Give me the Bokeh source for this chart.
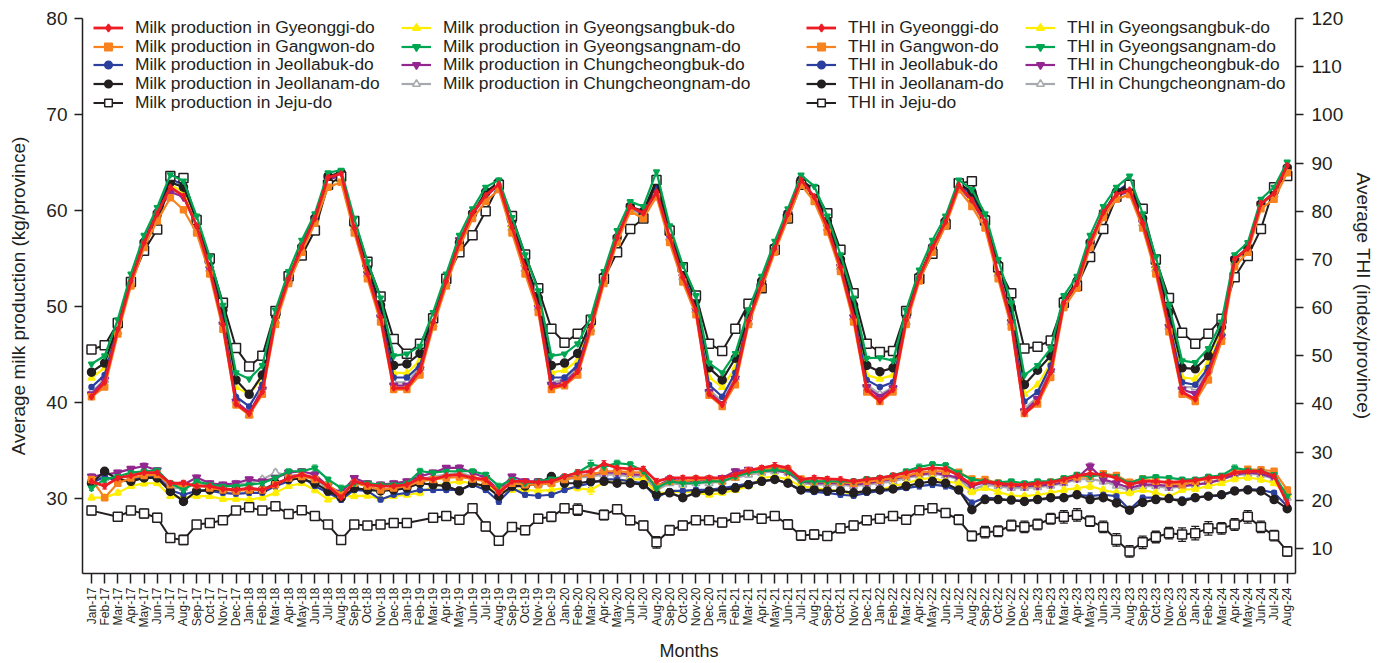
import math
from bokeh.plotting import figure
from bokeh.models import (Range1d, LinearAxis, FixedTicker, Legend, LegendItem,
                          Whisker, ColumnDataSource, TeeHead)
from bokeh.embed import file_html
from bokeh.resources import INLINE

MONTHS = [
    "Jan-17", "Feb-17", "Mar-17", "Apr-17", "May-17", "Jun-17", "Jul-17", "Aug-17", "Sep-17", "Oct-17", "Nov-17", "Dec-17",
    "Jan-18", "Feb-18", "Mar-18", "Apr-18", "May-18", "Jun-18", "Jul-18", "Aug-18", "Sep-18", "Oct-18", "Nov-18", "Dec-18",
    "Jan-19", "Feb-19", "Mar-19", "Apr-19", "May-19", "Jun-19", "Jul-19", "Aug-19", "Sep-19", "Oct-19", "Nov-19", "Dec-19",
    "Jan-20", "Feb-20", "Mar-20", "Apr-20", "May-20", "Jun-20", "Jul-20", "Aug-20", "Sep-20", "Oct-20", "Nov-20", "Dec-20",
    "Jan-21", "Feb-21", "Mar-21", "Apr-21", "May-21", "Jun-21", "Jul-21", "Aug-21", "Sep-21", "Oct-21", "Nov-21", "Dec-21",
    "Jan-22", "Feb-22", "Mar-22", "Apr-22", "May-22", "Jun-22", "Jul-22", "Aug-22", "Sep-22", "Oct-22", "Nov-22", "Dec-22",
    "Jan-23", "Feb-23", "Mar-23", "Apr-23", "May-23", "Jun-23", "Jul-23", "Aug-23", "Sep-23", "Oct-23", "Nov-23", "Dec-23",
    "Jan-24", "Feb-24", "Mar-24", "Apr-24", "May-24", "Jun-24", "Jul-24", "Aug-24",
]

PROVINCES = ["Gyeonggi-do", "Gangwon-do", "Jeollabuk-do", "Jeollanam-do", "Jeju-do",
             "Gyeongsangbuk-do", "Gyeongsangnam-do", "Chungcheongbuk-do", "Chungcheongnam-do"]

# ---------------- THI (right axis) ----------------
THI_GYEONGGI = [
    41.5, 44.5, 55.5, 65.5, 73.5, 79.5, 85.0, 83.2, 77.0, 68.0, 56.5, 40.0,
    38.0, 42.5, 57.7, 66.0, 72.5, 78.5, 87.0, 87.8, 76.5, 67.0, 58.0, 43.3,
    43.3, 46.9, 57.0, 65.5, 73.5, 79.6, 83.3, 85.6, 76.7, 68.3, 60.0, 43.5,
    44.0, 46.7, 56.0, 66.0, 74.5, 81.0, 79.6, 84.0, 74.7, 66.3, 59.4, 42.1,
    39.8, 45.0, 57.3, 65.0, 72.3, 79.5, 86.5, 83.0, 76.7, 68.4, 58.0, 43.0,
    40.6, 43.0, 57.5, 66.3, 72.5, 77.8, 85.4, 82.3, 77.8, 67.0, 57.0, 38.0,
    40.4, 46.6, 61.0, 65.0, 73.5, 79.7, 83.5, 84.4, 77.5, 68.0, 56.0, 42.5,
    41.0, 46.5, 54.0, 70.0, 72.3, 81.6, 83.7, 89.5]
THI_GANGWON = [
    41.5, 43.5, 54.5, 64.5, 72.5, 78.0, 82.8, 80.3, 75.5, 67.0, 55.5, 39.8,
    37.7, 42.0, 56.5, 65.0, 71.5, 77.5, 85.0, 86.0, 75.5, 66.0, 57.0, 43.0,
    43.0, 46.0, 56.0, 64.5, 72.5, 78.5, 82.0, 84.5, 75.5, 67.0, 59.0, 43.0,
    43.8, 46.0, 55.0, 65.0, 73.5, 80.0, 78.5, 83.0, 73.5, 65.3, 58.5, 41.8,
    39.5, 44.0, 56.5, 64.0, 71.5, 78.5, 85.5, 82.0, 75.7, 67.5, 57.0, 42.5,
    40.5, 42.5, 56.5, 65.5, 71.5, 77.0, 84.5, 81.0, 76.5, 66.0, 56.0, 38.0,
    40.0, 45.5, 60.0, 64.0, 72.5, 78.7, 82.5, 83.5, 76.5, 67.0, 55.0, 42.0,
    40.5, 45.0, 53.0, 68.5, 71.5, 80.5, 82.5, 88.0]
THI_JEOLLABUK = [
    43.5, 46.0, 56.0, 65.5, 74.0, 80.0, 86.7, 85.5, 78.0, 68.5, 57.5, 41.5,
    39.5, 44.0, 58.0, 66.0, 73.0, 79.0, 87.3, 87.8, 77.0, 67.5, 59.0, 45.5,
    45.5, 48.0, 57.5, 65.5, 73.5, 79.5, 83.5, 85.8, 77.0, 68.5, 60.5, 45.5,
    45.5, 48.0, 56.5, 66.0, 74.5, 81.0, 79.8, 85.0, 75.5, 67.0, 60.0, 44.0,
    41.5, 46.5, 58.0, 65.5, 72.5, 79.5, 86.5, 84.0, 77.5, 69.0, 59.0, 45.0,
    43.5, 44.5, 58.0, 66.5, 72.8, 78.0, 85.5, 83.5, 78.0, 67.5, 58.0, 40.5,
    42.5, 48.0, 61.0, 65.0, 73.5, 79.7, 84.0, 86.0, 78.0, 68.5, 57.0, 44.5,
    44.0, 47.5, 54.5, 70.0, 72.3, 81.5, 83.8, 89.3]
THI_JEOLLANAM = [
    46.6, 48.5, 56.5, 65.5, 73.5, 79.5, 86.0, 85.0, 78.5, 69.5, 59.5, 45.0,
    42.0, 46.0, 58.5, 66.0, 72.5, 78.5, 87.3, 88.0, 77.5, 68.5, 60.5, 48.0,
    48.3, 50.5, 58.0, 66.0, 73.5, 79.5, 84.0, 86.0, 78.0, 69.5, 62.0, 48.0,
    48.5, 50.5, 57.0, 66.5, 74.5, 81.0, 80.0, 86.5, 76.0, 68.0, 61.5, 47.5,
    45.0, 49.5, 58.5, 65.5, 72.5, 79.5, 86.5, 84.5, 78.0, 70.0, 60.5, 48.0,
    46.7, 47.5, 58.5, 66.5, 72.5, 78.0, 85.8, 84.0, 78.5, 69.0, 60.0, 44.0,
    47.0, 50.0, 61.5, 65.5, 73.5, 79.5, 84.0, 85.5, 78.5, 69.5, 59.0, 47.5,
    47.3, 50.0, 56.0, 70.0, 72.5, 81.5, 84.0, 89.0]
THI_JEJU = [
    51.3, 52.2, 56.8, 65.3, 71.8, 76.2, 87.3, 86.9, 78.2, 70.2, 61.0, 51.6,
    47.8, 50.0, 59.3, 66.5, 70.8, 76.0, 85.5, 87.2, 78.0, 69.5, 62.3, 53.5,
    50.4, 52.5, 57.8, 66.0, 71.5, 75.0, 80.0, 85.5, 79.0, 71.0, 64.0, 55.6,
    52.7, 54.6, 57.5, 66.0, 71.5, 76.3, 78.5, 86.5, 76.0, 68.4, 62.5, 52.5,
    51.0, 55.6, 60.8, 64.0, 72.0, 78.5, 85.5, 84.4, 79.6, 72.0, 63.0, 52.5,
    50.8, 51.0, 59.3, 66.0, 71.2, 77.3, 85.8, 86.2, 78.1, 68.4, 63.0, 51.5,
    51.9, 53.2, 61.0, 64.5, 70.5, 76.3, 83.0, 85.5, 80.5, 70.0, 62.0, 54.8,
    52.5, 54.6, 57.7, 66.3, 70.7, 76.3, 85.0, 87.3]
THI_GYEONGSANGBUK = [
    45.4, 47.5, 56.0, 66.0, 74.0, 79.5, 85.5, 84.0, 77.5, 69.0, 58.5, 43.5,
    42.0, 45.5, 58.0, 66.5, 73.0, 78.5, 86.0, 86.5, 77.0, 68.0, 59.5, 46.5,
    46.4, 49.0, 57.5, 66.0, 73.5, 79.5, 83.5, 85.5, 77.0, 68.8, 61.0, 46.5,
    47.0, 49.0, 56.5, 66.0, 74.5, 80.0, 78.5, 85.5, 75.5, 67.0, 60.5, 45.5,
    43.5, 47.5, 58.0, 65.5, 72.5, 79.5, 86.0, 83.5, 77.0, 69.0, 59.5, 46.0,
    45.2, 46.0, 58.0, 66.5, 73.0, 78.0, 85.0, 82.8, 77.5, 67.5, 58.5, 42.0,
    44.0, 48.5, 61.0, 65.0, 73.5, 79.5, 83.5, 85.0, 77.5, 68.5, 57.5, 45.5,
    45.2, 48.5, 55.0, 69.5, 72.5, 81.5, 83.5, 89.0]
THI_GYEONGSANGNAM = [
    48.3, 50.0, 57.5, 67.0, 75.0, 80.8, 87.6, 86.3, 79.0, 70.5, 60.5, 46.5,
    45.2, 48.0, 59.5, 67.5, 74.0, 79.5, 88.0, 88.5, 78.5, 69.5, 62.0, 50.0,
    50.4, 52.0, 59.0, 67.0, 75.0, 80.5, 85.0, 86.5, 78.7, 71.0, 63.5, 50.0,
    50.4, 52.5, 58.0, 67.5, 76.0, 82.0, 81.0, 88.2, 77.0, 68.8, 62.5, 48.5,
    46.5, 50.5, 59.5, 66.5, 73.8, 80.5, 87.5, 85.2, 79.0, 71.0, 62.0, 49.5,
    49.6, 49.0, 59.5, 67.8, 74.0, 79.0, 86.5, 84.5, 79.5, 70.0, 61.0, 46.0,
    48.0, 51.5, 62.5, 66.5, 75.0, 81.0, 85.0, 87.3, 79.5, 70.5, 60.5, 49.0,
    48.6, 51.5, 57.0, 71.0, 73.5, 82.5, 85.0, 90.2]
THI_CHUNGCHEONGBUK = [
    42.0, 45.0, 55.5, 65.5, 73.5, 79.5, 84.0, 83.0, 77.0, 68.0, 56.5, 40.5,
    38.2, 43.0, 57.5, 66.0, 72.5, 78.5, 86.5, 87.5, 76.5, 67.0, 58.0, 43.8,
    43.8, 47.2, 57.0, 65.5, 74.0, 79.5, 83.0, 85.5, 76.5, 68.3, 60.0, 44.0,
    44.5, 47.0, 56.0, 66.0, 74.5, 81.0, 79.3, 84.0, 74.7, 66.3, 59.4, 42.5,
    40.0, 45.3, 57.3, 65.0, 72.5, 79.5, 86.3, 83.0, 76.7, 68.4, 58.0, 43.5,
    41.5, 43.3, 57.5, 66.3, 72.5, 77.8, 85.2, 82.0, 77.5, 67.0, 57.0, 38.5,
    41.0, 46.8, 61.0, 65.0, 73.5, 79.7, 83.3, 84.0, 77.5, 68.0, 56.0, 43.0,
    42.1, 46.7, 54.0, 70.0, 72.3, 81.5, 83.5, 89.0]
THI_CHUNGCHEONGNAM = [
    42.5, 45.0, 55.0, 65.0, 73.5, 79.5, 84.5, 83.5, 77.0, 68.0, 57.0, 40.8,
    37.7, 43.5, 57.3, 65.5, 72.5, 78.5, 86.5, 87.5, 76.5, 67.0, 58.5, 44.5,
    44.5, 47.5, 56.5, 65.0, 73.5, 79.5, 83.0, 85.5, 76.5, 68.0, 60.0, 44.5,
    45.0, 47.5, 55.5, 65.5, 74.5, 80.5, 79.0, 84.5, 74.5, 66.3, 59.5, 43.0,
    40.5, 45.5, 57.0, 65.0, 72.3, 79.5, 86.0, 83.5, 76.5, 68.4, 58.0, 44.0,
    42.0, 43.5, 57.0, 66.0, 72.5, 77.5, 85.0, 82.5, 77.5, 67.0, 57.0, 39.0,
    41.5, 47.0, 60.5, 64.5, 73.5, 79.5, 83.5, 84.5, 77.5, 68.0, 56.0, 43.5,
    43.5, 47.0, 54.0, 69.5, 72.0, 81.5, 83.5, 89.0]

# ---------------- Milk production (left axis) ----------------
MILK_GYEONGGI = [
    31.8, 31.3, 32.15, 32.4, 32.7, 32.7, 31.6, 31.6, 31.3, 31.3, 31.0, 30.9,
    31.1, 30.9, 31.45, 32.15, 32.5, 32.15, 31.3, 30.1, 31.8, 31.45, 31.3, 31.3,
    31.45, 32.15, 32.0, 32.4, 32.5, 32.15, 32.0, 30.6, 31.8, 31.8, 31.7, 31.8,
    32.3, 32.7, 32.85, 33.65, 33.2, 33.1, 33.1, 31.8, 32.15, 32.15, 32.15, 32.15,
    32.15, 32.5, 32.95, 33.2, 33.45, 33.2, 32.0, 32.15, 32.05, 32.0, 31.8, 32.0,
    32.15, 32.4, 32.7, 33.0, 33.2, 33.1, 32.4, 31.45, 31.8, 31.6, 31.45, 31.45,
    31.6, 31.7, 32.0, 32.4, 32.6, 32.5, 32.15, 31.45, 31.8, 31.8, 31.7, 31.8,
    31.9, 32.15, 32.25, 32.7, 32.85, 32.85, 32.35, 29.55]
MILK_GANGWON = [
    32.0, 30.1, 31.6, 32.15, 32.4, 32.5, 31.45, 31.3, 31.45, 31.1, 30.9, 30.8,
    30.9, 30.9, 31.45, 32.15, 32.3, 32.0, 31.45, 30.4, 31.6, 31.3, 30.9, 31.1,
    31.3, 31.8, 32.0, 32.15, 32.25, 32.05, 31.8, 30.9, 31.6, 31.45, 31.45, 31.6,
    32.0, 32.3, 32.5, 32.85, 32.85, 32.75, 32.7, 31.3, 31.8, 31.8, 32.0, 32.0,
    31.8, 32.25, 32.85, 33.0, 33.2, 33.0, 32.05, 31.8, 31.8, 31.7, 31.6, 31.8,
    31.9, 32.15, 32.4, 32.7, 32.85, 32.85, 32.75, 32.05, 32.0, 31.6, 31.55, 31.45,
    31.55, 31.7, 31.9, 32.25, 32.3, 32.6, 32.4, 31.7, 32.05, 31.8, 31.6, 31.45,
    31.8, 32.05, 32.25, 32.85, 33.05, 33.0, 32.85, 30.9]
MILK_JEOLLABUK = [
    31.6, 32.3, 31.8, 32.0, 32.3, 32.3, 30.9, 30.4, 30.8, 30.8, 30.6, 30.5,
    30.6, 30.6, 31.3, 31.8, 32.3, 31.3, 30.6, 29.9, 30.9, 30.8, 29.9, 30.4,
    30.6, 30.9, 30.9, 30.9, 30.9, 31.45, 30.9, 29.7, 31.1, 30.4, 30.3, 30.4,
    30.9, 31.3, 31.6, 32.0, 32.0, 31.8, 31.6, 30.1, 30.8, 30.8, 30.9, 30.9,
    31.1, 31.3, 31.6, 31.8, 32.0, 31.6, 30.8, 30.7, 30.6, 30.4, 30.3, 30.6,
    30.8, 30.9, 31.1, 31.3, 31.45, 31.3, 30.8, 29.55, 30.1, 30.0, 29.8, 29.8,
    29.9, 30.0, 30.2, 30.4, 30.25, 30.4, 30.25, 28.85, 30.1, 30.1, 29.9, 29.9,
    30.1, 30.25, 30.3, 30.8, 31.0, 30.9, 30.6, 29.2]
MILK_JEOLLANAM = [
    31.6, 32.85, 32.0, 31.8, 32.15, 32.15, 30.75, 29.7, 30.8, 30.9, 30.9, 30.9,
    30.9, 30.9, 31.6, 32.05, 32.05, 31.6, 30.8, 30.1, 31.1, 30.9, 30.8, 30.9,
    31.1, 31.6, 31.45, 31.3, 30.8, 31.6, 31.3, 30.25, 31.3, 31.3, 31.6, 32.3,
    31.6, 31.6, 31.8, 31.8, 31.6, 31.6, 31.45, 30.4, 30.6, 30.1, 30.6, 30.8,
    30.9, 31.1, 31.45, 31.8, 32.0, 31.6, 30.9, 30.9, 30.8, 30.8, 30.6, 30.8,
    30.9, 31.0, 31.3, 31.6, 31.8, 31.6, 30.9, 28.85, 29.9, 29.9, 29.85, 29.7,
    29.9, 30.1, 30.1, 30.4, 29.9, 30.1, 29.55, 28.8, 29.6, 29.9, 30.0, 29.7,
    30.1, 30.25, 30.4, 30.8, 30.9, 30.8, 29.9, 28.95]
MILK_JEJU = [
    28.75, None, 28.1, 28.75, 28.45, 28.0, 25.9, 25.7, 27.3, 27.45, 27.75, 28.75,
    29.1, 28.75, 29.2, 28.4, 28.8, 28.2, 27.3, 25.7, 27.3, 27.2, 27.3, 27.45,
    27.45, None, 28.0, 28.2, 27.8, 29.0, 27.1, 25.6, 27.05, 26.7, 27.9, 28.1,
    29.0, 28.85, None, 28.3, 28.9, 27.75, 27.2, 25.45, 26.7, 27.2, 27.75, 27.75,
    27.5, 28.0, 28.3, 27.9, 28.2, 27.3, 26.15, 26.25, 26.1, 26.9, 27.2, 27.75,
    27.9, 28.2, 27.8, 28.8, 29.0, 28.5, 27.8, 26.1, 26.5, 26.6, 27.2, 27.05,
    27.3, 27.9, 28.1, 28.3, 27.65, 27.05, 25.7, 24.5, 25.45, 26.0, 26.4, 26.25,
    26.4, 26.9, 26.9, 27.3, 28.1, 27.05, 26.15, 24.5]
MILK_JEJU_SE = [
    0.45, None, 0.45, 0.4, 0.45, 0.45, 0.45, 0.5, 0.4, 0.4, 0.4, 0.4,
    0.4, 0.4, 0.35, 0.45, 0.35, 0.35, 0.4, 0.45, 0.4, 0.4, 0.4, 0.35,
    0.35, None, 0.35, 0.35, 0.4, 0.35, 0.45, 0.45, 0.35, 0.45, 0.45, 0.5,
    0.45, 0.6, None, 0.5, 0.45, 0.45, 0.45, 0.6, 0.5, 0.45, 0.35, 0.35,
    0.45, 0.35, 0.35, 0.45, 0.45, 0.5, 0.5, 0.5, 0.45, 0.45, 0.45, 0.45,
    0.35, 0.35, 0.45, 0.4, 0.4, 0.4, 0.5, 0.5, 0.6, 0.55, 0.55, 0.6,
    0.55, 0.55, 0.65, 0.65, 0.55, 0.6, 0.65, 0.6, 0.65, 0.6, 0.6, 0.7,
    0.7, 0.7, 0.6, 0.6, 0.65, 0.6, 0.55, 0.5]
MILK_GYEONGSANGBUK = [
    30.1, 30.1, 30.6, 31.3, 31.6, 31.6, 30.25, 30.1, 30.25, 30.25, 29.95, 29.95,
    29.9, 30.1, 30.6, 31.3, 31.6, 30.9, 29.9, 30.25, 30.25, 30.3, 29.95, 30.25,
    30.4, 30.6, 31.3, 31.6, 31.8, 31.6, 31.3, 30.8, 30.9, 30.9, 30.8, 30.9,
    31.1, 31.1, 30.9, 31.7, 31.8, 32.0, 32.0, 30.6, 30.6, 30.8, 30.6, 30.4,
    30.6, 30.9, 31.3, 32.15, 32.3, 32.0, 31.3, 31.1, 30.9, 30.8, 30.4, 30.8,
    30.9, 31.3, 31.6, 32.0, 32.15, 31.8, 31.6, 30.7, 31.1, 30.7, 30.3, 30.25,
    30.4, 30.6, 30.9, 31.1, 31.3, 30.9, 30.6, 30.6, 30.9, 30.6, 30.2, 30.9,
    31.0, 31.3, 31.6, 32.05, 32.2, 32.0, 31.6, 30.4]
MILK_GYEONGSANGNAM = [
    31.1, 32.0, 32.3, 32.7, 32.85, 32.95, 31.6, 30.9, 31.8, 31.45, 31.3, 31.3,
    31.45, 31.6, 32.15, 32.85, 32.85, 33.2, 32.0, 31.1, 31.6, 31.6, 31.45, 31.45,
    31.6, 32.85, 32.7, 32.85, 32.85, 32.85, 32.5, 31.3, 32.0, 31.6, 31.8, 32.05,
    32.3, 32.7, 33.55, 33.3, 33.7, 33.55, 32.85, 31.1, 31.8, 31.6, 31.6, 31.8,
    31.8, 32.3, 32.7, 32.85, 33.0, 32.85, 31.8, 31.8, 31.8, 31.8, 31.8, 32.05,
    32.15, 32.4, 32.85, 33.3, 33.55, 33.45, 32.7, 32.0, 31.8, 31.7, 31.8, 31.6,
    31.8, 31.8, 32.15, 32.5, 32.3, 32.5, 32.3, 31.6, 32.15, 32.25, 32.15, 32.0,
    32.0, 32.3, 32.4, 33.2, 32.95, 32.85, 32.5, 30.25]
MILK_CHUNGCHEONGBUK = [
    32.3, 32.5, 32.7, 33.1, 33.4, 32.95, 31.45, 31.45, 32.2, 31.6, 31.45, 31.6,
    32.0, 31.8, 32.15, 32.7, 32.85, 32.5, 31.3, 30.6, 32.15, 31.6, 31.45, 31.6,
    31.8, 32.3, 32.7, 33.2, 33.2, 32.7, 32.15, 30.9, 32.3, 31.8, 31.8, 31.8,
    32.15, 32.3, 32.5, 32.7, 32.7, 32.5, 32.5, 31.3, 32.0, 31.8, 31.8, 32.05,
    32.15, 32.85, 33.0, 32.85, 32.95, 32.7, 31.8, 31.6, 31.6, 31.6, 31.45, 31.6,
    31.8, 32.05, 32.3, 32.5, 32.7, 32.5, 32.15, 31.3, 31.7, 31.45, 31.3, 31.3,
    31.35, 31.45, 31.7, 32.15, 33.35, 32.0, 31.6, 31.1, 31.45, 31.45, 31.3, 31.3,
    31.45, 31.6, 32.0, 32.5, 32.7, 32.6, 32.15, 30.25]
MILK_CHUNGCHEONGNAM = [
    32.1, 32.1, 32.15, 32.4, 32.7, 32.4, 31.1, 31.1, 31.6, 31.3, 31.3, 31.45,
    31.6, 32.0, 32.7, 32.4, 32.5, 32.15, 30.9, 30.25, 31.8, 31.3, 31.3, 31.45,
    31.45, 32.0, 32.3, 32.5, 32.7, 32.3, 31.8, 30.8, 31.8, 31.45, 31.45, 31.6,
    32.0, 32.15, 32.3, 32.5, 32.5, 32.3, 32.3, 30.9, 31.6, 31.45, 31.6, 31.6,
    31.8, 32.15, 32.5, 32.7, 32.85, 32.7, 31.6, 31.45, 31.45, 31.45, 31.3, 31.45,
    31.6, 31.8, 32.15, 32.4, 32.6, 32.4, 32.0, 30.9, 31.45, 31.3, 31.1, 31.1,
    31.2, 31.35, 31.6, 32.0, 32.05, 31.8, 31.35, 30.8, 31.3, 31.3, 31.1, 31.3,
    31.45, 31.7, 32.0, 32.4, 32.6, 32.5, 32.05, 30.1]
MILK_SE_MAINLAND = [
    0.25, 0.3, 0.25, 0.25, 0.3, 0.25, 0.25, 0.3, 0.25, 0.25, 0.25, 0.25,
    0.25, 0.25, 0.3, 0.25, 0.25, 0.3, 0.25, 0.3, 0.25, 0.25, 0.25, 0.25,
    0.25, 0.3, 0.25, 0.25, 0.3, 0.25, 0.25, 0.3, 0.25, 0.25, 0.25, 0.25,
    0.25, 0.3, 0.45, 0.3, 0.3, 0.3, 0.25, 0.3, 0.25, 0.25, 0.25, 0.25,
    0.25, 0.25, 0.25, 0.25, 0.3, 0.25, 0.25, 0.25, 0.25, 0.25, 0.25, 0.25,
    0.25, 0.25, 0.25, 0.3, 0.3, 0.3, 0.25, 0.3, 0.25, 0.25, 0.25, 0.25,
    0.25, 0.25, 0.25, 0.25, 0.35, 0.3, 0.25, 0.3, 0.25, 0.25, 0.25, 0.25,
    0.25, 0.25, 0.25, 0.3, 0.3, 0.3, 0.25, 0.3]

THI_DATA = [THI_GYEONGGI, THI_GANGWON, THI_JEOLLABUK, THI_JEOLLANAM, THI_JEJU,
            THI_GYEONGSANGBUK, THI_GYEONGSANGNAM, THI_CHUNGCHEONGBUK, THI_CHUNGCHEONGNAM]
MILK_DATA = [MILK_GYEONGGI, MILK_GANGWON, MILK_JEOLLABUK, MILK_JEOLLANAM, MILK_JEJU,
             MILK_GYEONGSANGBUK, MILK_GYEONGSANGNAM, MILK_CHUNGCHEONGBUK, MILK_CHUNGCHEONGNAM]

STYLES = [
    dict(color="#ED1C24", marker="diamond", size=6, fill="#ED1C24", lw=2.8),
    dict(color="#F7821E", marker="square", size=6, fill="#F7821E", lw=2.2),
    dict(color="#2B3F9E", marker="circle", size=5, fill="#2B3F9E", lw=2.2),
    dict(color="#231F20", marker="circle", size=8, fill="#231F20", lw=2.2),
    dict(color="#231F20", marker="square", size=9, fill="white", lw=2.0),
    dict(color="#FFEE00", marker="triangle", size=7, fill="#FFEE00", lw=2.2),
    dict(color="#00A651", marker="inverted_triangle", size=6, fill="#00A651", lw=2.2),
    dict(color="#92278F", marker="inverted_triangle", size=8, fill="#92278F", lw=2.2),
    dict(color="#A7A9AC", marker="triangle", size=8, fill="white", lw=2.2),
]
DRAW_ORDER = [8, 7, 5, 2, 3, 4, 1, 6, 0]

TXT = "#231F20"
FONT = "Liberation Sans"

p = figure(width=1384, height=663, output_backend="svg", toolbar_location=None,
           x_range=Range1d(-0.685, 91.63), y_range=Range1d(22.2, 80.0),
           min_border_left=82, min_border_right=89, min_border_top=18, min_border_bottom=89)
p.extra_y_ranges = {"thi": Range1d(4.82, 120.0)}
p.xgrid.visible = False
p.ygrid.visible = False
p.outline_line_color = None
p.background_fill_color = "white"
p.border_fill_color = "white"

X = list(range(len(MONTHS)))

milk_r = {}
thi_r = {}
for k in DRAW_ORDER:
    st = STYLES[k]
    vals = MILK_DATA[k]
    xs = [i for i, v in enumerate(vals) if v is not None]
    ys = [vals[i] for i in xs]
    if k == 4:
        se = [MILK_JEJU_SE[i] for i in xs]
        head_size = 8
        wl = 1.3
    else:
        se = [MILK_SE_MAINLAND[i] for i in xs]
        head_size = 5
        wl = 1.0
    src = ColumnDataSource(dict(x=xs, y=ys, lo=[a - b for a, b in zip(ys, se)],
                                hi=[a + b for a, b in zip(ys, se)]))
    w = Whisker(source=src, base="x", lower="lo", upper="hi", line_color=st["color"], line_width=wl,
                upper_head=TeeHead(size=head_size, line_color=st["color"], line_width=wl),
                lower_head=TeeHead(size=head_size, line_color=st["color"], line_width=wl))
    p.add_layout(w)
    l1 = p.line("x", "y", source=src, line_color=st["color"], line_width=st["lw"])
    s1 = p.scatter("x", "y", source=src, marker=st["marker"], size=st["size"],
                   fill_color=st["fill"], line_color=st["color"], line_width=1.5)
    milk_r[k] = [l1, s1]
    tv = THI_DATA[k]
    l2 = p.line(X, tv, line_color=st["color"], line_width=st["lw"], y_range_name="thi")
    s2 = p.scatter(X, tv, marker=st["marker"], size=st["size"], fill_color=st["fill"],
                   line_color=st["color"], line_width=1.5, y_range_name="thi")
    thi_r[k] = [l2, s2]

# axes
xa = p.xaxis[0]
xa.ticker = FixedTicker(ticks=X)
xa.major_label_overrides = {i: m for i, m in enumerate(MONTHS)}
xa.major_label_orientation = math.pi / 2
xa.major_label_text_font_size = "12px"
xa.major_label_standoff = 4
xa.axis_label = "Months"
xa.axis_label_text_font_size = "18px"
xa.axis_label_text_font_style = "normal"
xa.axis_label_standoff = 10

ya = p.yaxis[0]
ya.ticker = FixedTicker(ticks=[30, 40, 50, 60, 70, 80])
ya.major_label_text_font_size = "19px"
ya.major_label_standoff = 7
ya.axis_label = "Average milk production (kg/province)"
ya.axis_label_text_font_size = "19px"
ya.axis_label_text_font_style = "normal"
ya.axis_label_standoff = 14

ra = LinearAxis(y_range_name="thi", ticker=FixedTicker(ticks=[10, 20, 30, 40, 50, 60, 70, 80, 90, 100, 110, 120]),
                axis_label="Average THI (index/province)")
ra.major_label_text_font_size = "19px"
ra.major_label_standoff = 8
ra.axis_label_text_font_size = "19px"
ra.axis_label_text_font_style = "normal"
ra.axis_label_standoff = 7
p.add_layout(ra, "right")

for ax in [xa, ya, ra]:
    ax.axis_line_color = TXT
    ax.axis_line_width = 1.5
    ax.major_tick_line_color = TXT
    ax.major_tick_line_width = 1.5
    ax.major_tick_in = 0
    ax.major_tick_out = 8
    ax.minor_tick_line_color = None
    ax.major_label_text_color = TXT
    ax.major_label_text_font = FONT
    ax.axis_label_text_color = TXT
    ax.axis_label_text_font = FONT
xa.major_tick_out = 10

# legend: one Legend per entry so rows sit where the reference has them,
# with the first row kept fully inside the plot frame
FRAME_BOTTOM = 574
ITEM_H = 20.7
ROW0 = 28.6
ROW_PITCH = 18.7
COL_X = [11, 319, 724, 943]

def add_entry(label, renderers, col, row):
    center = ROW0 + ROW_PITCH * row
    vy = FRAME_BOTTOM - center - ITEM_H / 2.0
    lg = Legend(items=[LegendItem(label=label, renderers=renderers)], location=(COL_X[col], vy),
                orientation="vertical",
                label_text_font=FONT, label_text_font_size="17.4px", label_text_color=TXT,
                glyph_width=30, glyph_height=19, label_height=19, label_standoff=12,
                spacing=0, padding=0, margin=0, border_line_color=None,
                background_fill_alpha=0.0)
    p.add_layout(lg, "center")

for r, k in enumerate([0, 1, 2, 3, 4]):
    add_entry("Milk production in " + PROVINCES[k], milk_r[k], 0, r)
for r, k in enumerate([5, 6, 7, 8]):
    add_entry("Milk production in " + PROVINCES[k], milk_r[k], 1, r)
for r, k in enumerate([0, 1, 2, 3, 4]):
    add_entry("THI in " + PROVINCES[k], thi_r[k], 2, r)
for r, k in enumerate([5, 6, 7, 8]):
    add_entry("THI in " + PROVINCES[k], thi_r[k], 3, r)

open("out.html", "w").write(file_html(p, INLINE))
